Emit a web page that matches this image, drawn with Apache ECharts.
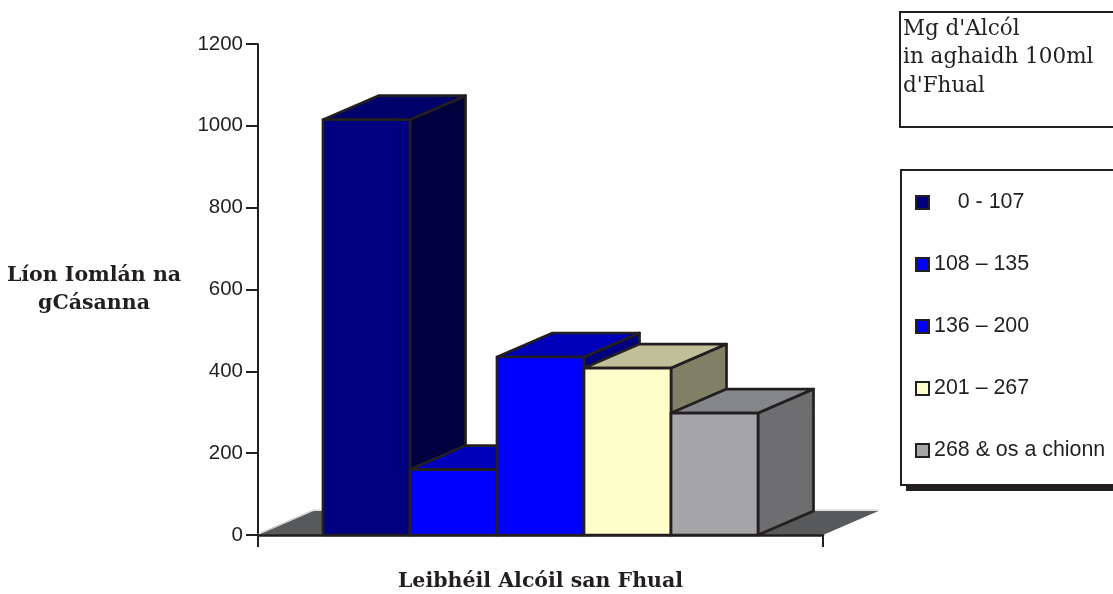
<!DOCTYPE html>
<html><head><meta charset="utf-8">
<style>html,body{margin:0;padding:0;background:#fff}#c{width:1113px;height:594px}</style>
<script src="https://cdn.jsdelivr.net/npm/echarts@6/dist/echarts.min.js"></script>
</head><body><div id="c"></div>
<script>
const rangeLabels = ['0 - 107', '108 – 135', '136 – 200', '201 – 267', '268 & os a chionn'];
const caseCounts = [1015, 160, 435, 408, 298];
const frontColors = ['#000080', '#0000ff', '#0000ff', '#ffffcc', '#a6a6a9'];
const topColors = ['#00006b', '#0000bb', '#0000bb', '#bfbf99', '#858689'];
const sideColors = ['#00003e', '#000080', '#000080', '#808066', '#6e6e70'];
const yTicks = { min: 0, max: 1200, interval: 200 };
const yAxisTitle = 'Líon Iomlán na\ngCásanna';
const xAxisTitle = 'Leibhéil Alcóil san Fhual';
const noteLines = "Mg d'Alcól\nin aghaidh 100ml\nd'Fhual";

const INK = '#231f20';
const DX = 55.5, DY = 24, BAR_SHARE = 87 / 565;

function poly(points, fill, stroke) {
  return { type: 'polygon', shape: { points }, style: { fill, stroke: stroke || INK, lineWidth: 2.7, lineJoin: 'round' } };
}
function barRender(i) {
  return function (params, api) {
    const w = api.size([1, 0])[0] * BAR_SHARE;
    const base = api.coord([0, 0]);
    const top = api.coord([0, api.value(1)]);
    const x0 = base[0] + (i - 2.5) * w, x1 = x0 + w, y0 = base[1], y1 = top[1];
    return { type: 'group', children: [
      poly([[x1, y1], [x1 + DX, y1 - DY], [x1 + DX, y0 - DY], [x1, y0]], sideColors[i]),
      poly([[x0, y1], [x0 + DX, y1 - DY], [x1 + DX, y1 - DY], [x1, y1]], topColors[i]),
      poly([[x0, y0], [x0, y1], [x1, y1], [x1, y0]], frontColors[i])
    ]};
  };
}
function floorRender(params, api) {
  const W = api.size([1, 0])[0];
  const b = api.coord([0, 0]);
  const l = b[0] - W / 2, r = b[0] + W / 2, y = b[1];
  return { type: 'group', children: [
    { type: 'polyline', shape: { points: [[l, y - 1], [l + DX, y - DY - 1], [r + DX, y - DY - 1]] },
      style: { fill: 'none', stroke: '#c4c4c4', lineWidth: 1 } },
    { type: 'polygon', shape: { points: [[l, y], [l + DX, y - DY], [r + DX, y - DY], [r, y]] },
      style: { fill: '#58595b', stroke: 'none' } }
  ]};
}
const series = [{ type: 'custom', name: 'urlár', renderItem: floorRender, silent: true, data: [[0, 0]], encode: { x: 0, y: 1 } }];
rangeLabels.forEach((name, i) => series.push({
  type: 'custom', name, renderItem: barRender(i), data: [[0, caseCounts[i]]],
  encode: { x: 0, y: 1 }, itemStyle: { color: frontColors[i] }
}));

const chart = echarts.init(document.getElementById('c'), null, { renderer: 'canvas' });
chart.setOption({
  animation: false,
  backgroundColor: '#fff',
  grid: { left: 258, right: 290, top: 44, bottom: 59, outerBoundsMode: 'none' },
  xAxis: {
    type: 'category', data: ['Gach cás'],
    name: xAxisTitle, nameLocation: 'middle', nameGap: 36,
    nameTextStyle: { fontFamily: 'DejaVu Serif', fontWeight: 'bold', fontSize: 20.5, color: INK },
    axisLine: { lineStyle: { color: INK, width: 2.5 } },
    axisTick: { show: true, interval: 0, length: 12, lineStyle: { color: INK, width: 2 } },
    axisLabel: { show: true, interval: 0, formatter: () => '' }, z: 5
  },
  yAxis: {
    type: 'value', min: yTicks.min, max: yTicks.max, interval: yTicks.interval,
    name: yAxisTitle, nameLocation: 'middle', nameRotate: 0, nameGap: 164,
    nameTextStyle: { fontFamily: 'DejaVu Serif', fontWeight: 'bold', fontSize: 20.5, color: INK, lineHeight: 28, align: 'center', padding: [6, 0, 0, 0] },
    axisLine: { show: true, lineStyle: { color: INK, width: 2 } },
    axisTick: { show: true, length: 12, lineStyle: { color: INK, width: 2 } },
    axisLabel: { fontFamily: 'Liberation Sans', fontSize: 20.5, color: INK, margin: 15, formatter: v => String(v) },
    splitLine: { show: false }
  },
  legend: {
    orient: 'vertical', left: 915, top: 192, padding: 0, itemWidth: 13, itemHeight: 13, itemGap: 41,
    icon: 'rect', selectedMode: false, data: rangeLabels, z: 10,
    formatter: n => n === rangeLabels[0] ? '\u00a0\u00a0\u00a0\u00a0' + n : n,
    itemStyle: { borderColor: INK, borderWidth: 2 },
    textStyle: { fontFamily: 'Liberation Sans', fontSize: 21.4, color: INK }
  },
  graphic: [
    { type: 'rect', z: 1, shape: { x: 906, y: 176, width: 230, height: 315 }, style: { fill: INK } },
    { type: 'rect', z: 2, shape: { x: 901, y: 170, width: 230, height: 315 }, style: { fill: '#fff', stroke: INK, lineWidth: 2 } },
    { type: 'rect', z: 2, shape: { x: 900, y: 12, width: 230, height: 115 }, style: { fill: '#fff', stroke: INK, lineWidth: 2 } },
    { type: 'text', z: 3, style: { x: 903, y: 15, text: noteLines, fill: INK, font: '21.5px "DejaVu Serif"', lineHeight: 28.5 } }
  ],
  series
});
</script></body></html>
